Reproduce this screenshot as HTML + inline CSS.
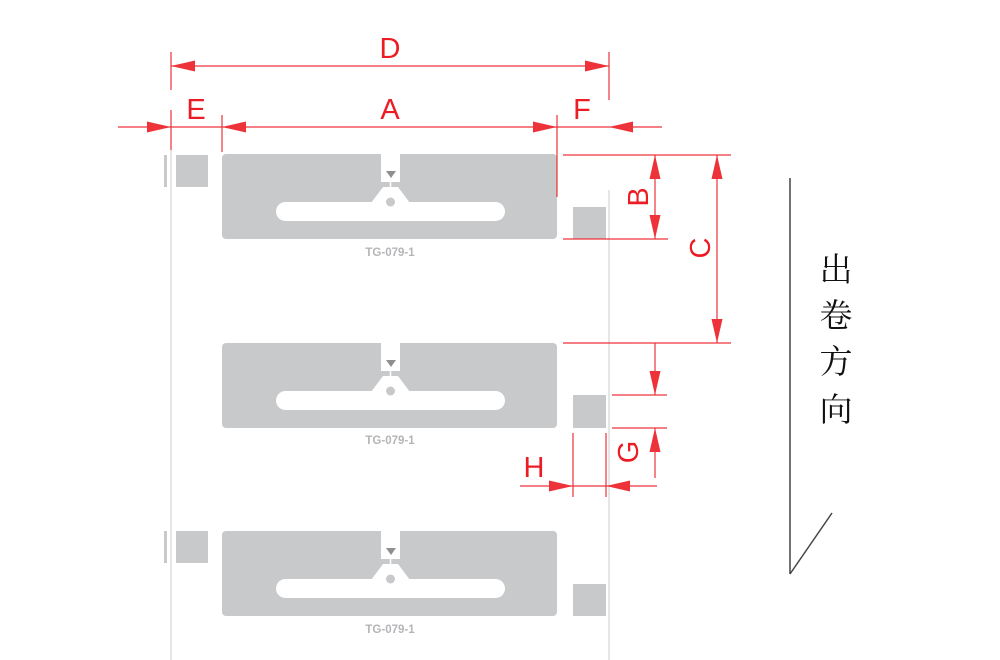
<!DOCTYPE html>
<html><head><meta charset="utf-8"><style>
html,body{margin:0;padding:0;background:#fff}
svg{display:block}
</style></head><body>
<svg width="1000" height="660" viewBox="0 0 1000 660" xmlns="http://www.w3.org/2000/svg">
<defs>
<g id="tag">
  <rect x="222" y="0" width="335" height="85" rx="4" fill="#c8c9cb"/>
  <rect x="381" y="-1" width="19" height="29" fill="#fff"/>
  <line x1="390.5" y1="28" x2="390.5" y2="34" stroke="#fff" stroke-width="1.5"/>
  <polygon points="383,33 398,33 410,49 371,49" fill="#fff"/>
  <rect x="276" y="48" width="229" height="19" rx="9.5" fill="#fff"/>
  <circle cx="390.5" cy="48" r="4.5" fill="#c8c9cb"/>
  <polygon points="386,17 396,17 391,24" fill="#8e8f91"/>
</g>
<marker id="a" markerWidth="24" markerHeight="11" refX="24" refY="5.5" orient="auto" markerUnits="userSpaceOnUse">
  <path d="M0,0 L24,5.5 L0,11 Z" fill="#ec1c24"/>
</marker>
</defs>

<line x1="171" y1="150" x2="171" y2="660" stroke="#ddd" stroke-width="1.5"/>
<line x1="609" y1="190" x2="609" y2="660" stroke="#ddd" stroke-width="1.5"/>

<use href="#tag" transform="translate(0,154)"/>
<use href="#tag" transform="translate(0,343)"/>
<use href="#tag" transform="translate(0,531)"/>
<g fill="#c8c9cb">
  <rect x="164" y="155" width="3" height="32"/>
  <rect x="176" y="155" width="32" height="32"/>
  <rect x="164" y="531" width="3" height="32"/>
  <rect x="176" y="531" width="32" height="32"/>
  <rect x="573" y="207" width="33" height="32"/>
  <rect x="573" y="395" width="33" height="33"/>
  <rect x="573" y="584" width="33" height="32"/>
</g>
<g font-family="Liberation Sans, sans-serif" font-weight="bold" font-size="11.5" fill="#b4b5b7" text-anchor="middle">
  <text x="390" y="256">TG-079-1</text>
  <text x="390" y="444">TG-079-1</text>
  <text x="390" y="633">TG-079-1</text>
</g>

<g stroke="#ec1c24" stroke-width="1.2" fill="none" opacity="0.9">
  <line x1="171" y1="52" x2="171" y2="90"/>
  <line x1="609" y1="52" x2="609" y2="100"/>
  <line x1="390" y1="66" x2="171" y2="66" marker-end="url(#a)"/>
  <line x1="390" y1="66" x2="609" y2="66" marker-end="url(#a)"/>
  <line x1="118" y1="127" x2="171" y2="127" marker-end="url(#a)"/>
  <line x1="171" y1="127" x2="222" y2="127"/>
  <line x1="390" y1="127" x2="222" y2="127" marker-end="url(#a)"/>
  <line x1="390" y1="127" x2="557" y2="127" marker-end="url(#a)"/>
  <line x1="557" y1="127" x2="609" y2="127"/>
  <line x1="662" y1="127" x2="609" y2="127" marker-end="url(#a)"/>
  <line x1="171" y1="110" x2="171" y2="150"/>
  <line x1="222" y1="115" x2="222" y2="152"/>
  <line x1="557" y1="115" x2="557" y2="197"/>
  <line x1="563" y1="155" x2="731" y2="155"/>
  <line x1="563" y1="239" x2="668" y2="239"/>
  <line x1="563" y1="343" x2="731" y2="343"/>
  <line x1="655" y1="197" x2="655" y2="155" marker-end="url(#a)"/>
  <line x1="655" y1="197" x2="655" y2="239" marker-end="url(#a)"/>
  <line x1="717" y1="250" x2="717" y2="155" marker-end="url(#a)"/>
  <line x1="717" y1="250" x2="717" y2="343" marker-end="url(#a)"/>
  <line x1="655" y1="343" x2="655" y2="395" marker-end="url(#a)"/>
  <line x1="612" y1="395" x2="667" y2="395"/>
  <line x1="612" y1="428" x2="667" y2="428"/>
  <line x1="655" y1="478" x2="655" y2="428" marker-end="url(#a)"/>
  <line x1="573" y1="433" x2="573" y2="497"/>
  <line x1="606" y1="433" x2="606" y2="497"/>
  <line x1="520" y1="486" x2="573" y2="486" marker-end="url(#a)"/>
  <line x1="573" y1="486" x2="606" y2="486"/>
  <line x1="657" y1="486" x2="606" y2="486" marker-end="url(#a)"/>
</g>

<g font-family="Liberation Sans, sans-serif" font-size="29" fill="#ec1c24" text-anchor="middle">
  <text x="390" y="58">D</text>
  <text x="196" y="119">E</text>
  <text x="390" y="119">A</text>
  <text x="582" y="119">F</text>
  <text x="534" y="477">H</text>
  <text transform="translate(648,197) rotate(-90)">B</text>
  <text transform="translate(710,248) rotate(-90)">C</text>
  <text transform="translate(638,452) rotate(-90)">G</text>
</g>

<g stroke="#444" stroke-width="1.5" fill="none">
  <line x1="790" y1="178" x2="790" y2="574"/>
  <line x1="790" y1="574" x2="832" y2="513"/>
</g>
<g font-family="Liberation Serif, Noto Serif CJK SC, serif" font-size="33" fill="#111" text-anchor="middle">
  <text x="836" y="281">出</text>
  <text x="836" y="327">卷</text>
  <text x="836" y="373">方</text>
  <text x="836" y="421">向</text>
</g>
</svg>
</body></html>
